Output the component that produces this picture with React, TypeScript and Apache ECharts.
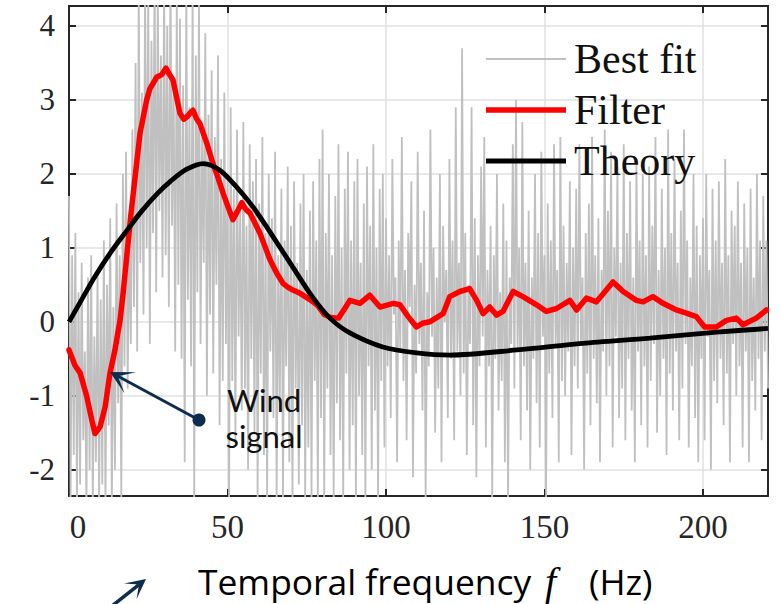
import React, { useEffect, useRef } from "react";
import * as echarts from "echarts";

// ---- data ----
const GRAY_START = 0;
const GRAY_STEP = 0.5;
const grayValues = [
  1.7, -2.4, 0.9, -1.8, 1.2, -2.5, 0.4, -2.2, 0.8, -1.6, -0.4, -2.5, 0.6, -2.0, 0.9, -2.5, -0.2, -1.9, 0.7, -2.5,
  0.3, -2.2, 1.1, -2.5, 0.5, -1.4, 1.4, -2.5, 0.2, -2.0, 1.6, -1.1, 0.9, -2.4, 2.0, -0.6, 2.3, -0.9, 1.2, -0.3,
  2.6, 0.2, 3.5, -0.4, 4.5, 0.8, 3.1, 0.1, 4.6, 1.0, 4.4, -0.3, 3.8, 1.2, 4.7, 0.4, 4.5, 1.5, 3.6, 0.6,
  4.6, 0.9, 4.0, 0.2, 4.8, 1.3, 3.3, -0.4, 4.4, 0.5, 4.1, -0.5, 3.2, -1.9, 4.5, 0.3, 2.9, -0.6, 4.6, -2.4,
  3.6, 0.4, 4.3, -0.3, 2.6, 0.8, 3.9, -1.0, 2.8, 0.1, 3.4, -0.7, 2.5, 0.5, 3.6, -1.4, 2.2, -0.8, 3.1, -0.3,
  2.0, -2.4, 2.9, -0.8, 1.8, -1.6, 2.6, -0.2, 1.5, -1.2, 2.7, -0.9, 1.3, -2.0, 2.4, -0.5, 1.9, -1.5, 2.2, -2.4,
  1.6, -0.7, 2.5, -1.8, 1.2, -2.4, 2.0, -0.4, 1.4, -1.3, 2.3, -2.4, 0.9, -1.1, 1.8, -2.4, 1.1, -0.6, 2.1, -1.9,
  1.3, -2.4, 1.9, -0.9, 0.8, -2.2, 1.6, -1.4, 2.0, -2.4, 0.7, -1.7, 1.5, -2.4, 1.9, -0.8, 1.1, -2.4, 2.2, -1.3,
  2.6, -2.4, 1.2, -0.9, 2.0, -1.8, 0.9, -2.4, 1.7, -1.1, 2.4, -1.6, 1.0, -2.4, 1.8, -0.7, 2.3, -2.0, 1.1, -1.4,
  1.9, -2.4, 2.2, -1.0, 0.8, -1.8, 1.6, -2.4, 2.1, -0.6, 1.3, -2.0, 2.4, -1.2, 1.0, -2.4, 1.8, -0.8, 2.0, -1.7,
  1.4, -0.6, 0.9, -1.3, 2.2, 0.1, 0.6, -1.9, 1.1, -0.4, 2.5, -0.8, 0.7, -1.6, 1.2, 0.2, 1.9, -2.1, 0.5, -0.7,
  2.3, -0.3, 0.8, -1.2, 1.5, -2.4, 0.4, -0.6, 2.6, -0.2, 1.0, -1.5, 0.6, -0.9, 2.0, -1.9, 1.3, 0.0, 0.7, -1.3,
  2.2, -0.5, 1.1, -1.6, 2.9, -0.4, 0.8, -1.0, 3.7, -0.7, 1.2, -1.8, 0.5, -0.3, 2.9, -1.4, 1.4, -2.1, 0.9, -0.6,
  2.1, -0.2, 2.5, -1.7, 0.7, -0.6, 1.3, -2.4, 0.9, -0.5, 2.0, -1.2, 0.4, -0.8, 1.6, -1.9, 1.1, -2.4, 0.6, -0.3,
  2.4, -0.9, 3.0, -0.4, 1.0, -1.6, 2.7, -0.6, 0.8, -1.2, 1.5, -2.0, 0.6, -0.5, 2.0, -1.1, 1.2, -1.7, 2.3, -0.2,
  0.9, -2.4, 1.6, -0.7, 1.1, -1.3, 2.4, -0.3, 0.7, -1.9, 2.5, -0.8, 1.3, -1.0, 0.8, -0.4, 1.9, -1.8, 1.0, -0.6,
  1.8, -0.9, 2.4, -0.3, 0.6, -2.0, 1.2, -0.7, 1.6, -1.4, 2.5, -0.5, 0.9, -1.1, 1.4, -1.9, 0.7, -0.4, 2.6, -1.0,
  1.5, -0.6, 2.3, -1.7, 1.0, -0.2, 2.1, -1.3, 0.8, -0.9, 2.4, -1.6, 1.2, -0.5, 1.9, -1.2, 0.6, -1.9, 2.2, -0.4,
  1.1, -1.4, 2.0, -0.6, 0.9, -1.7, 2.1, -0.8, 1.3, -0.3, 2.5, -1.5, 0.7, -1.0, 1.8, -0.5, 1.0, -1.8, 2.6, -0.7,
  1.2, -1.2, 2.2, -0.4, 0.8, -1.6, 1.5, -0.9, 2.6, -0.3, 1.1, -1.7, 0.6, -0.6, 2.0, -1.3, 1.3, -1.9, 0.9, -0.5,
  1.4, -1.6, 2.0, -0.2, 0.7, -2.0, 1.8, -0.8, 1.1, -1.1, 1.9, -0.5, 0.8, -1.4, 2.2, -0.7, 0.9, -1.9, 1.5, -0.3,
  1.3, -1.0, 1.9, -0.6, 0.8, -1.7, 1.6, -0.4, 1.0, -1.9, 1.8, -0.8, 0.6, -1.2, 2.0, -0.5, 1.1, -1.6, 1.7, -0.4,
  1.1, -0.9,
];

const filterFreq = [
  0, 1.9, 3.5, 5.6, 7.2, 8.2, 9.8, 11.4, 12.9, 14.5, 16.1, 17.1, 19.5, 22.4, 24.5, 25.5, 27.7, 29.2, 30.6, 31.5,
  32.8, 35, 36.2, 37.2, 38.3, 39.1, 40.2, 41.3, 43.5, 45.4, 47, 48.6, 50.2, 51.7, 53.2, 54.5, 55.8, 57.1, 60.2, 61.8,
  63.4, 65.5, 67.5, 69, 70.6, 72.2, 73.8, 76, 78.5, 80.5, 82.5, 85, 87, 88.6, 91.8, 94.9, 98.1, 102.3, 104.4, 107,
  109.6, 111.5, 113.8, 118, 120.1, 123.3, 126.4, 128.6, 130.6, 132.7, 134.9, 136.9, 140.1, 143.2, 147.5, 150.6, 153.8, 158, 160.1, 163.2,
  166.4, 169.5, 171.6, 174.8, 179, 181.1, 184.2, 187.4, 191.6, 194.5, 197.9, 200.5, 204.2, 207.4, 210.5, 212.6, 216.8, 220,
];
const filterValues = [
  -0.38, -0.59, -0.69, -1.01, -1.33, -1.51, -1.42, -1.15, -0.7, -0.38, 0.02, 0.4, 1.44, 2.55, 3.0, 3.15, 3.31, 3.34, 3.43, 3.36,
  3.27, 2.82, 2.74, 2.77, 2.83, 2.86, 2.75, 2.68, 2.41, 2.14, 1.95, 1.74, 1.55, 1.38, 1.5, 1.61, 1.52, 1.47, 1.2, 1.02,
  0.84, 0.66, 0.52, 0.47, 0.43, 0.4, 0.36, 0.3, 0.22, 0.1, 0.06, 0.05, 0.18, 0.29, 0.25, 0.36, 0.2, 0.25, 0.23, 0.07,
  -0.07, -0.02, 0.0, 0.11, 0.34, 0.41, 0.45, 0.29, 0.11, 0.2, 0.09, 0.14, 0.41, 0.34, 0.23, 0.14, 0.18, 0.29, 0.16, 0.32,
  0.27, 0.43, 0.54, 0.41, 0.29, 0.27, 0.34, 0.25, 0.16, 0.12, 0.07, -0.07, -0.07, 0.02, 0.05, -0.04, 0.05, 0.16,
];

const theoryFreq = [0, 4, 8, 13, 18, 23, 28, 32, 37, 42.3, 47.6, 52.9, 58.1, 62.4, 70.6, 76.9, 82.3, 88.6, 99, 109.7, 120.1, 141.3, 162, 183.2, 204.3, 220.5];
const theoryValues = [0, 0.3, 0.6, 0.93, 1.22, 1.5, 1.74, 1.9, 2.06, 2.14, 2.05, 1.82, 1.55, 1.28, 0.74, 0.33, 0.05, -0.15, -0.34, -0.42, -0.45, -0.38, -0.29, -0.22, -0.14, -0.09];

const xTicks = [0, 50, 100, 150, 200];
const yTicks = [-2, -1, 0, 1, 2, 3, 4];
const X_MIN = 0;
const X_MAX = 220.5;
const Y_MIN = -2.355;
const Y_MAX = 4.27;

const seriesNames = ["Best fit", "Filter", "Theory"];

const NAVY = "#0e2c4e";
const AXIS = "#262626";
const SERIF = "Liberation Serif";

export default function App() {
  const ref = useRef<HTMLDivElement>(null);

  useEffect(() => {
    const chart = echarts.init(ref.current!, null, { renderer: "svg" });

    const grayData = grayValues.map((v, i) => [GRAY_START + i * GRAY_STEP, v]);
    const filterData = filterFreq.map((f, i) => [f, filterValues[i]]);
    const theoryData = theoryFreq.map((f, i) => [f, theoryValues[i]]);

    const axisLine = { show: true, onZero: false, lineStyle: { color: AXIS, width: 2 } };

    const option: any = {
      animation: false,
      backgroundColor: "#ffffff",
      grid: { left: 69, top: 6, right: 14, bottom: 108, containLabel: false },
      legend: {
        orient: "vertical",
        left: 486,
        top: 38,
        padding: 0,
        itemWidth: 80,
        itemHeight: 20,
        itemGap: 9,
        symbolKeepAspect: true,
        data: [
          { name: seriesNames[0], icon: "path://M0,0H80V2H0Z" },
          { name: seriesNames[1], icon: "path://M0,0H80V5.5H0Z" },
          { name: seriesNames[2], icon: "path://M0,0H80V5H0Z" },
        ],
        textStyle: { fontFamily: SERIF, fontSize: 42, color: "#111", lineHeight: 40, padding: [0, 0, 0, 3] },
      },
      xAxis: [
        {
          type: "value",
          position: "bottom",
          min: X_MIN,
          max: X_MAX,
          axisLine,
          axisTick: { show: true, inside: true, length: 7, customValues: xTicks, lineStyle: { color: AXIS, width: 2 } },
          axisLabel: {
            customValues: xTicks,
            margin: 14,
            fontFamily: SERIF,
            fontSize: 33,
            color: "#262626",
            formatter: (v: number) => (v === 0 ? "{z|0}" : String(v)),
            rich: { z: { fontFamily: SERIF, fontSize: 33, color: "#262626", padding: [0, 0, 0, 18] } },
          },
          splitLine: { show: true, lineStyle: { color: "#e0e0e0", width: 1.5 } },
        },
        {
          type: "value",
          position: "top",
          min: X_MIN,
          max: X_MAX,
          axisLine,
          axisTick: { show: true, inside: true, length: 7, customValues: xTicks, lineStyle: { color: AXIS, width: 2 } },
          axisLabel: { show: false },
          splitLine: { show: false },
        },
      ],
      yAxis: [
        {
          type: "value",
          position: "left",
          min: Y_MIN,
          max: Y_MAX,
          axisLine,
          axisTick: { show: true, inside: true, length: 7, customValues: yTicks, lineStyle: { color: AXIS, width: 2 } },
          axisLabel: {
            customValues: yTicks,
            margin: 14,
            fontFamily: SERIF,
            fontSize: 31,
            color: "#262626",
            formatter: (v: number) => String(v),
          },
          splitLine: { show: true, lineStyle: { color: "#e0e0e0", width: 1.5 } },
        },
        {
          type: "value",
          position: "right",
          min: Y_MIN,
          max: Y_MAX,
          axisLine,
          axisTick: { show: true, inside: true, length: 7, customValues: yTicks, lineStyle: { color: AXIS, width: 2 } },
          axisLabel: { show: false },
          splitLine: { show: false },
        },
      ],
      series: [
        {
          name: seriesNames[0],
          type: "line",
          data: grayData,
          symbol: "none",
          clip: true,
          lineStyle: { color: "#c0c0c0", width: 1.8 },
          itemStyle: { color: "#c0c0c0" },
          z: 2,
        },
        {
          name: seriesNames[1],
          type: "line",
          data: filterData,
          symbol: "none",
          clip: true,
          lineStyle: { color: "#ff0000", width: 5.5, join: "round", cap: "round" },
          itemStyle: { color: "#ff0000" },
          z: 3,
        },
        {
          name: seriesNames[2],
          type: "line",
          data: theoryData,
          symbol: "none",
          smooth: 0.3,
          clip: true,
          lineStyle: { color: "#000000", width: 4.8 },
          itemStyle: { color: "#000000" },
          z: 4,
        },
      ],
      graphic: [
        { type: "line", shape: { x1: 199, y1: 420, x2: 118, y2: 376.3 }, style: { stroke: NAVY, lineWidth: 3 }, z: 100 },
        {
          type: "polygon",
          shape: { points: [[110, 372], [136, 372.3], [117.9, 376.3], [124.6, 393.5]] },
          style: { fill: NAVY },
          z: 100,
        },
        { type: "circle", shape: { cx: 199, cy: 420, r: 6.5 }, style: { fill: NAVY }, z: 100 },
        {
          type: "text",
          x: 264,
          y: 382,
          style: {
            text: "Wind\nsignal",
            align: "center",
            verticalAlign: "top",
            fontFamily: "Lato",
            fontSize: 31,
            lineHeight: 36,
            fill: "#111",
          },
          z: 100,
        },
        { type: "line", shape: { x1: 112, y1: 606, x2: 139, y2: 584.6 }, style: { stroke: NAVY, lineWidth: 3.5 }, z: 100 },
        {
          type: "polygon",
          shape: { points: [[146, 579], [136.5, 599.2], [139, 584.6], [124.1, 583.6]] },
          style: { fill: NAVY },
          z: 100,
        },
        {
          type: "text",
          x: 198,
          y: 562,
          style: { text: "Temporal frequency", verticalAlign: "top", fontFamily: "Open Sans", fontSize: 35.4, lineHeight: 38, fill: "#000" },
          z: 100,
        },
        {
          type: "text",
          x: 545,
          y: 562,
          style: { text: "f", verticalAlign: "top", fontFamily: SERIF, fontStyle: "italic", fontSize: 40, lineHeight: 38, fill: "#000" },
          z: 100,
        },
        {
          type: "text",
          x: 589,
          y: 562,
          style: { text: "(Hz)", verticalAlign: "top", fontFamily: "Open Sans", fontSize: 35.4, lineHeight: 38, fill: "#000" },
          z: 100,
        },
      ],
    };

    chart.setOption(option);
    return () => chart.dispose();
  }, []);

  return <div ref={ref} style={{ position: "fixed", left: 0, top: 0, width: 782, height: 604 }} />;
}
